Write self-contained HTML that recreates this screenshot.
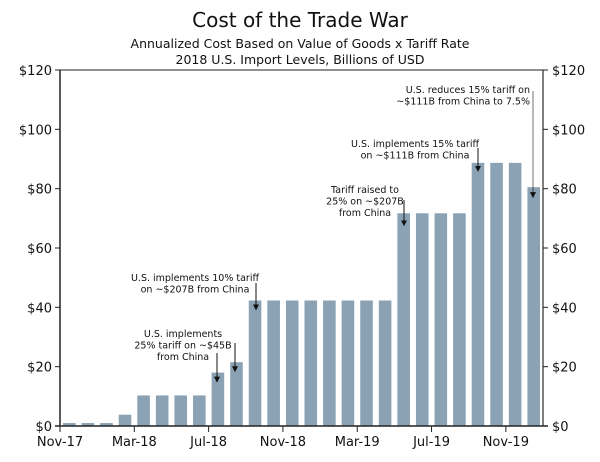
<!DOCTYPE html>
<html><head><meta charset="utf-8"><style>
body{margin:0;background:#fff;width:600px;height:457px;overflow:hidden}
svg text{font-family:"DejaVu Sans","Liberation Sans",sans-serif;fill:#111}
</style></head><body>
<svg id="chart" width="600" height="457" viewBox="0 0 600 457" xmlns="http://www.w3.org/2000/svg">
<defs><marker id="ah" markerWidth="6" markerHeight="6" refX="5" refY="3" orient="auto" markerUnits="userSpaceOnUse"><path d="M0,0 L6,3 L0,6 Z" fill="#111"/></marker></defs>
<text x="300" y="27" text-anchor="middle" font-size="20">Cost of the Trade War</text>
<text x="300" y="48" text-anchor="middle" font-size="12.5">Annualized Cost Based on Value of Goods x Tariff Rate</text>
<text x="300" y="64" text-anchor="middle" font-size="12.5">2018 U.S. Import Levels, Billions of USD</text>
<g id="bars"></g>
<g id="axes"></g>
<g id="notes" font-size="9.5"></g>
</svg>
<script>
const categories=["Nov-17","Dec-17","Jan-18","Feb-18","Mar-18","Apr-18","May-18","Jun-18","Jul-18","Aug-18","Sep-18","Oct-18","Nov-18","Dec-18","Jan-19","Feb-19","Mar-19","Apr-19","May-19","Jun-19","Jul-19","Aug-19","Sep-19","Oct-19","Nov-19","Dec-19"];
const values=[1,1,1,3.8,10.3,10.3,10.3,10.3,18,21.5,42.3,42.3,42.3,42.3,42.3,42.3,42.3,42.3,71.7,71.7,71.7,71.7,88.7,88.7,88.7,80.5];
const yTicks=[0,20,40,60,80,100,120];
const xLabelIdx=[0,4,8,12,16,20,24];
const NS="http://www.w3.org/2000/svg";
const L=60,R=543,Y0=426,Y1=70,MAX=120;
const slot=(R-L)/categories.length;
const x=i=>L+i*slot;
const y=v=>Y0-(Y0-Y1)*v/MAX;
function mk(tag,attrs,parent,txt){const e=document.createElementNS(NS,tag);for(const k in attrs)e.setAttribute(k,attrs[k]);if(txt!==undefined)e.textContent=txt;parent.appendChild(e);return e;}
const bars=document.getElementById('bars'),axes=document.getElementById('axes'),notes=document.getElementById('notes');
values.forEach((v,i)=>{
 const r=mk('rect',{x:x(i)+3,y:y(v),width:slot-6,height:Y0-y(v),fill:'#8aa2b3'},bars);
 
 
});
mk('line',{x1:L,y1:Y1,x2:L,y2:Y0,stroke:'#222','stroke-width':1.5},axes);
mk('line',{x1:R,y1:Y1,x2:R,y2:Y0,stroke:'#555','stroke-width':1.5},axes);
mk('line',{x1:L,y1:Y1,x2:R,y2:Y1,stroke:'#222','stroke-width':1},axes);
mk('line',{x1:L-5,y1:Y0,x2:R+5,y2:Y0,stroke:'#222','stroke-width':1.5},axes);
yTicks.forEach(t=>{
 mk('line',{x1:L-5,y1:y(t),x2:L,y2:y(t),stroke:'#222'},axes);
 mk('line',{x1:R,y1:y(t),x2:R+5,y2:y(t),stroke:'#222'},axes);
 const a=mk('text',{x:L-8,y:y(t)+5,'text-anchor':'end','font-size':13},axes,'$'+t);
 
 
 const b=mk('text',{x:R+9,y:y(t)+5,'font-size':13},axes,'$'+t);
 
 
});
xLabelIdx.forEach(i=>{
 mk('line',{x1:x(i),y1:Y0,x2:x(i),y2:Y0+6,stroke:'#222'},axes);
 const t=mk('text',{x:x(i),y:Y0+20,'text-anchor':'middle','font-size':13},axes,categories[i]);
 
 
});
function note(name,lines,tx,ty,anchor,arrows){
 const g=mk('g',{},notes);
 
 
 lines.forEach((s,k)=>mk('text',{x:tx,y:ty+k*11.5,'text-anchor':anchor},g,s));
 arrows.forEach(a=>mk('line',{x1:a[0],y1:a[1],x2:a[0],y2:a[2],stroke:'#111','stroke-width':a[3]||1,'marker-end':'url(#ah)'},g));
}
note('note-45b',["U.S. implements","25% tariff on ~$45B","from China"],183,337,'middle',[[217,353,y(values[8])+9],[235,343,y(values[9])+9]]);
note('note-10pct',["U.S. implements 10% tariff","on ~$207B from China"],195,281,'middle',[[256,283,y(values[10])+9]]);
note('note-25pct',["Tariff raised to","25% on ~$207B","from China"],365,193,'middle',[[404,200,y(values[18])+12]]);
note('note-15pct',["U.S. implements 15% tariff","on ~$111B from China"],415,147,'middle',[[478,148,y(values[22])+8]]);
note('note-7-5pct',["U.S. reduces 15% tariff on","~$111B from China to 7.5%"],530,93,'end',[[533,91,y(values[25])+10,0.6]]);
</script>
</body></html>
